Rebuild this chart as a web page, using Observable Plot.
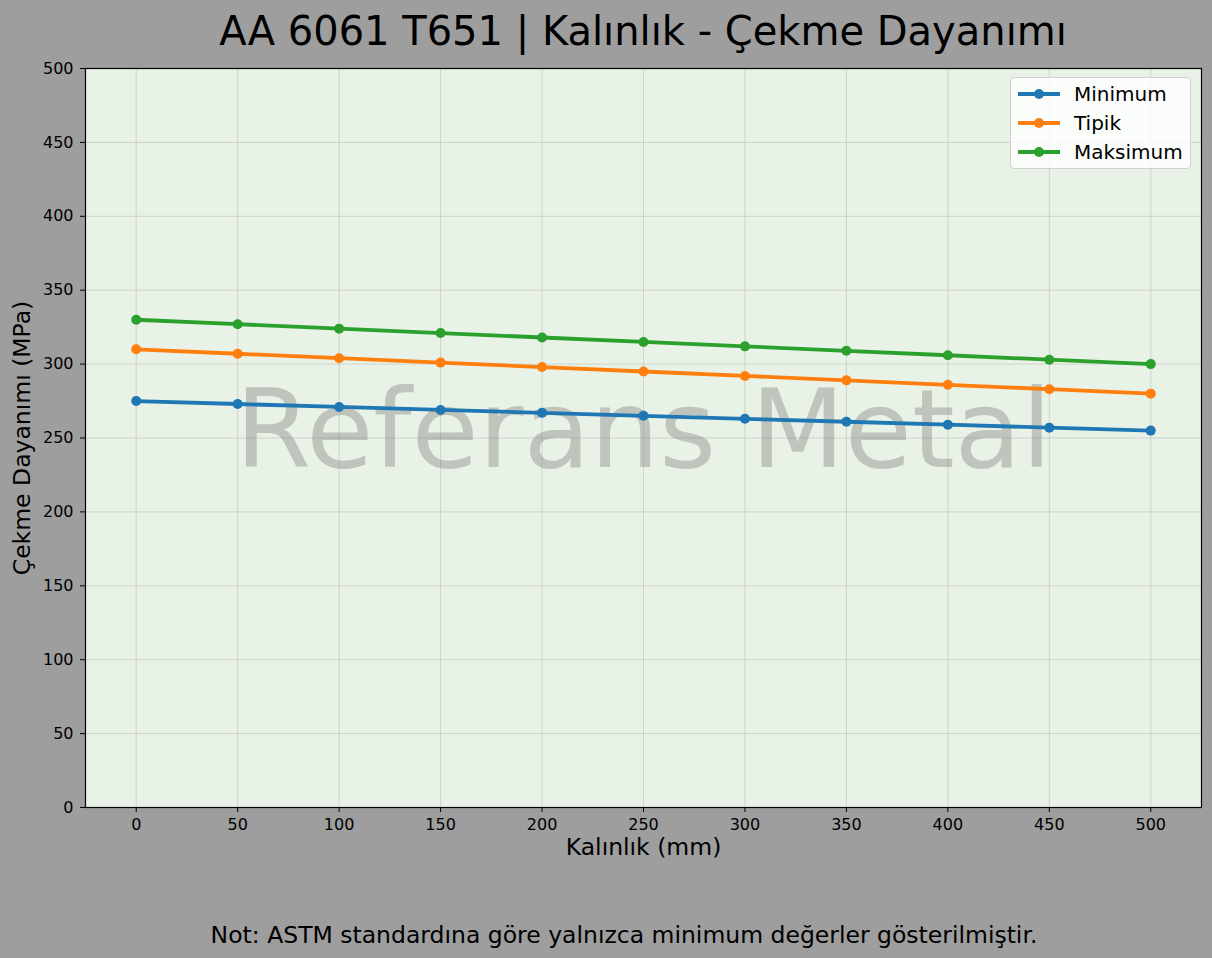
<!DOCTYPE html>
<html><head><meta charset="utf-8">
<script src="https://cdn.jsdelivr.net/npm/d3@7"></script>
<script src="https://cdn.jsdelivr.net/npm/@observablehq/plot@0.6"></script>
<style>
body{margin:0;background:#9e9e9e;font-family:"DejaVu Sans",sans-serif;}
#fig{position:relative;width:1212px;height:958px;background:#9e9e9e;overflow:hidden;}
#title{position:absolute;left:85px;width:1116px;top:0;height:62px;text-align:center;font-size:40px;line-height:62px;color:#000;}
#chart{position:absolute;left:0;top:60px;}
#caption{position:absolute;left:0;width:1248px;top:917px;text-align:center;font-size:23.5px;line-height:36px;color:#000;}
#legend{position:absolute;left:1010px;top:77px;width:181px;height:92px;background:rgba(255,255,255,0.8);border:1px solid #d0d0d0;border-radius:4px;box-sizing:border-box;}
.li{position:absolute;left:6px;height:29px;display:flex;align-items:center;font-size:20px;}
.li svg{margin-right:13px;}
</style></head><body>
<div id="fig">
<div id="title">AA 6061 T651 | Kalınlık - Çekme Dayanımı</div>
<div id="chart"></div>
<div id="legend"></div>
<div id="caption">Not: ASTM standardına göre yalnızca minimum değerler gösterilmiştir.</div>
</div>
<script>
const thickness = [0, 50, 100, 150, 200, 250, 300, 350, 400, 450, 500];
const minimum = [275, 273, 271, 269, 267, 265, 263, 261, 259, 257, 255];
const tipik = [310, 307, 304, 301, 298, 295, 292, 289, 286, 283, 280];
const maksimum = [330, 327, 324, 321, 318, 315, 312, 309, 306, 303, 300];
const seriesNames = ["Minimum", "Tipik", "Maksimum"];
const seriesColors = ["#1f77b4", "#ff7f0e", "#2ca02c"];
const xTicks = [0, 50, 100, 150, 200, 250, 300, 350, 400, 450, 500];
const yTicks = [0, 50, 100, 150, 200, 250, 300, 350, 400, 450, 500];

const seriesValues = [minimum, tipik, maksimum];
const rows = [];
seriesNames.forEach((name, i) => {
  thickness.forEach((t, j) => rows.push({series: name, x: t, y: seriesValues[i][j]}));
});

const chart = Plot.plot({
  width: 1212, height: 820,
  marginTop: 8, marginBottom: 73, marginLeft: 85, marginRight: 11,
  style: {background: "transparent", fontFamily: "DejaVu Sans", fontSize: "16px", color: "#000"},
  x: {domain: [-25, 525]},
  y: {domain: [0, 500]},
  color: {domain: seriesNames, range: seriesColors},
  marks: [
    Plot.frame({fill: "#e9f2e6", stroke: "none"}),
    Plot.gridX(xTicks, {stroke: "#a8a8a8", strokeOpacity: 0.4, strokeWidth: 1}),
    Plot.gridY(yTicks, {stroke: "#a8a8a8", strokeOpacity: 0.4, strokeWidth: 1}),
    Plot.text(["Referans Metal"], {frameAnchor: "middle", dy: -6, fontSize: 109, fill: "#808080", fillOpacity: 0.4, fontFamily: "DejaVu Sans"}),
    Plot.line(rows, {x: "x", y: "y", stroke: "series", strokeWidth: 3.8}),
    Plot.dot(rows, {x: "x", y: "y", fill: "series", r: 5, stroke: "none"}),
    Plot.axisX(xTicks, {tickSize: 5, tickPadding: 6, label: null, fontSize: 16}),
    Plot.axisY(yTicks, {tickSize: 5, tickPadding: 7, label: null, fontSize: 16}),
    Plot.frame({stroke: "#000", strokeWidth: 1.2}),
    Plot.text(["Kalınlık (mm)"], {frameAnchor: "bottom", dy: 47, fontSize: 23.5, fill: "#000"}),
    Plot.text(["Çekme Dayanımı (MPa)"], {frameAnchor: "left", dx: -63, rotate: -90, textAnchor: "middle", fontSize: 23.5, fill: "#000"})
  ]
});
document.getElementById("chart").appendChild(chart);

const legend = document.getElementById("legend");
seriesNames.forEach((name, i) => {
  const d = document.createElement("div");
  d.className = "li";
  d.style.top = (1.5 + i * 29) + "px";
  d.innerHTML = `<svg width="44" height="14"><line x1="1" x2="43" y1="7" y2="7" stroke="${seriesColors[i]}" stroke-width="3.8"/><circle cx="22" cy="7" r="5" fill="${seriesColors[i]}"/></svg><span>${name}</span>`;
  legend.appendChild(d);
});
</script>
</body></html>
